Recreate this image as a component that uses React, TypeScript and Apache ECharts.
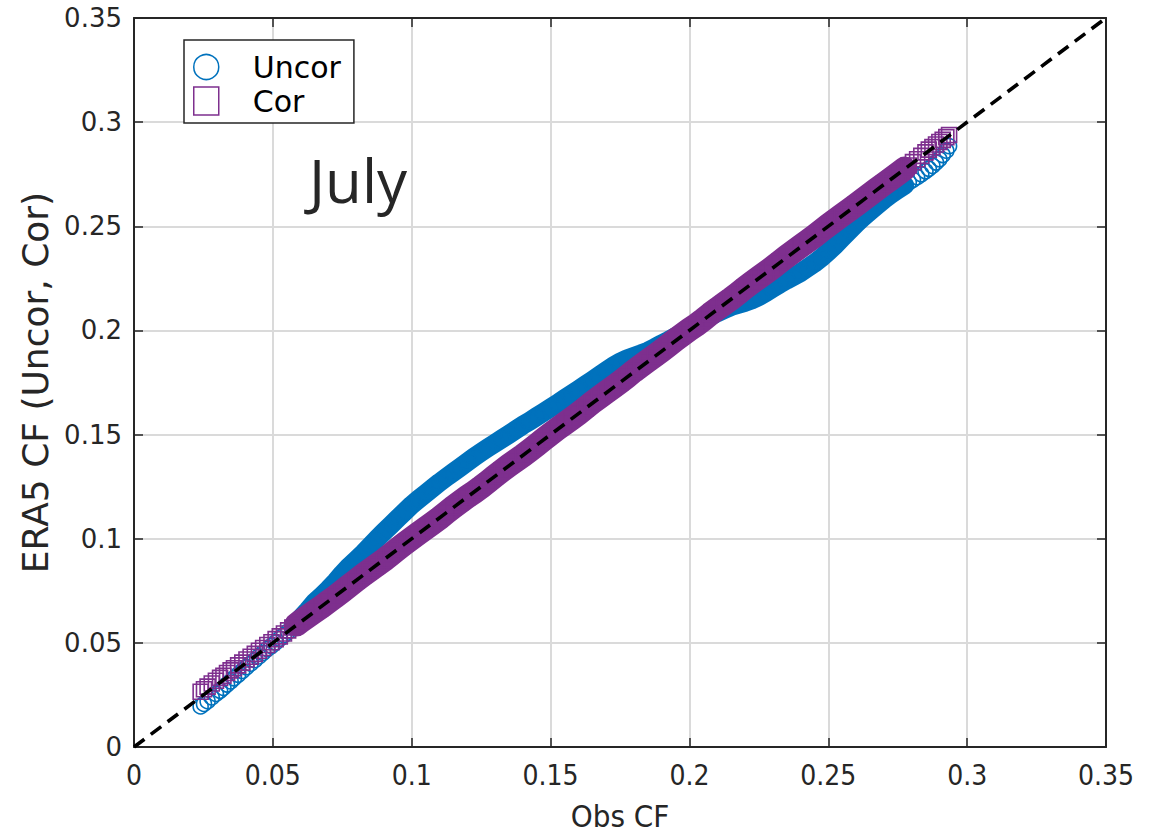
import React, { useEffect, useRef } from 'react';
import * as echarts from 'echarts';

// Observed capacity-factor quantiles (x) shared by both series
const obsCF = [
  0.0240, 0.0252, 0.0265, 0.0280, 0.0295, 0.0310, 0.0322, 0.0335, 0.0348, 0.0360,
  0.0375, 0.0390, 0.0405, 0.0420, 0.0435, 0.0450, 0.0465, 0.0480, 0.0495, 0.0510,
  0.0525, 0.0540, 0.0555, 0.0570, 0.0585, 0.0600, 0.0625, 0.0650, 0.0675, 0.0700,
  0.0725, 0.0750, 0.0775, 0.0800, 0.0825, 0.0850, 0.0875, 0.0900, 0.0925, 0.0950,
  0.0975, 0.1000, 0.1025, 0.1050, 0.1075, 0.1100, 0.1125, 0.1150, 0.1175, 0.1200,
  0.1225, 0.1250, 0.1275, 0.1300, 0.1325, 0.1350, 0.1375, 0.1400, 0.1425, 0.1450,
  0.1475, 0.1500, 0.1525, 0.1550, 0.1575, 0.1600, 0.1625, 0.1650, 0.1675, 0.1700,
  0.1725, 0.1750, 0.1775, 0.1800, 0.1825, 0.1850, 0.1875, 0.1900, 0.1925, 0.1950,
  0.1975, 0.2000, 0.2025, 0.2050, 0.2075, 0.2100, 0.2125, 0.2150, 0.2175, 0.2200,
  0.2225, 0.2250, 0.2275, 0.2300, 0.2325, 0.2350, 0.2375, 0.2400, 0.2425, 0.2450,
  0.2475, 0.2500, 0.2525, 0.2550, 0.2575, 0.2600, 0.2625, 0.2650, 0.2675, 0.2700,
  0.2725, 0.2750, 0.2775, 0.2790, 0.2805, 0.2820, 0.2835, 0.2850, 0.2862, 0.2875,
  0.2888, 0.2900, 0.2912, 0.2925, 0.2935,
];

// ERA5 uncorrected quantiles
const uncorCF = [
  0.0195, 0.0207, 0.0220, 0.0238, 0.0255, 0.0270, 0.0284, 0.0300, 0.0315, 0.0330,
  0.0347, 0.0365, 0.0383, 0.0400, 0.0417, 0.0435, 0.0452, 0.0470, 0.0485, 0.0502,
  0.0520, 0.0537, 0.0555, 0.0575, 0.0595, 0.0618, 0.0655, 0.0695, 0.0725, 0.0757,
  0.0793, 0.0832, 0.0867, 0.0898, 0.0930, 0.0965, 0.1000, 0.1033, 0.1065, 0.1098,
  0.1130, 0.1162, 0.1190, 0.1217, 0.1243, 0.1270, 0.1295, 0.1319, 0.1343, 0.1368,
  0.1392, 0.1415, 0.1437, 0.1458, 0.1480, 0.1501, 0.1523, 0.1545, 0.1565, 0.1586,
  0.1607, 0.1628, 0.1650, 0.1672, 0.1694, 0.1716, 0.1738, 0.1760, 0.1783, 0.1806,
  0.1828, 0.1848, 0.1863, 0.1875, 0.1887, 0.1900, 0.1917, 0.1935, 0.1952, 0.1970,
  0.1987, 0.2005, 0.2025, 0.2046, 0.2067, 0.2085, 0.2100, 0.2115, 0.2125, 0.2135,
  0.2147, 0.2162, 0.2182, 0.2203, 0.2223, 0.2242, 0.2260, 0.2278, 0.2300, 0.2323,
  0.2349, 0.2378, 0.2410, 0.2444, 0.2478, 0.2512, 0.2543, 0.2572, 0.2600, 0.2628,
  0.2653, 0.2676, 0.2697, 0.2710, 0.2723, 0.2736, 0.2750, 0.2764, 0.2776, 0.2790,
  0.2806, 0.2822, 0.2842, 0.2863, 0.2885,
];

// ERA5 corrected quantiles
const corCF = [
  0.0265, 0.0277, 0.0290, 0.0305, 0.0318, 0.0332, 0.0342, 0.0355, 0.0368, 0.0378,
  0.0392, 0.0405, 0.0420, 0.0433, 0.0447, 0.0462, 0.0475, 0.0490, 0.0503, 0.0518,
  0.0531, 0.0545, 0.0560, 0.0574, 0.0588, 0.0603, 0.0627, 0.0650, 0.0673, 0.0698,
  0.0722, 0.0748, 0.0774, 0.0800, 0.0826, 0.0850, 0.0874, 0.0898, 0.0924, 0.0951,
  0.0977, 0.1002, 0.1026, 0.1050, 0.1074, 0.1099, 0.1126, 0.1152, 0.1177, 0.1201,
  0.1224, 0.1248, 0.1274, 0.1301, 0.1327, 0.1352, 0.1376, 0.1399, 0.1424, 0.1450,
  0.1477, 0.1503, 0.1528, 0.1552, 0.1576, 0.1601, 0.1627, 0.1654, 0.1679, 0.1703,
  0.1727, 0.1752, 0.1778, 0.1805, 0.1830, 0.1854, 0.1878, 0.1903, 0.1929, 0.1955,
  0.1980, 0.2004, 0.2027, 0.2052, 0.2079, 0.2104, 0.2128, 0.2152, 0.2178, 0.2205,
  0.2230, 0.2254, 0.2278, 0.2303, 0.2329, 0.2355, 0.2380, 0.2404, 0.2428, 0.2453,
  0.2479, 0.2505, 0.2530, 0.2554, 0.2578, 0.2603, 0.2628, 0.2653, 0.2678, 0.2703,
  0.2727, 0.2752, 0.2777, 0.2792, 0.2808, 0.2822, 0.2838, 0.2855, 0.2868, 0.2880,
  0.2893, 0.2905, 0.2915, 0.2928, 0.2938,
];

// 1:1 reference line end points
const refX = [0, 0.35];
const refY = [0, 0.35];

const AXIS_MIN = 0;
const AXIS_MAX = 0.35;
const TICK_STEP = 0.05;
// dense part of the quantile cloud (markers overlap into a solid band)
const BAND_MIN = 0.058;
const BAND_MAX = 0.278;

const BLUE = '#0072BD';
const PURPLE = '#7E2F8E';
const INK = '#262626';

export default function App() {
  const ref = useRef<HTMLDivElement>(null);

  useEffect(() => {
    document.body.style.margin = '0';
    const chart = echarts.init(ref.current as HTMLDivElement, null, { renderer: 'svg' });

    const pairs = (ys: number[]) => obsCF.map((x, i) => [x, ys[i]]);
    const band = (ys: number[]) => pairs(ys).filter((p) => p[0] >= BAND_MIN && p[0] <= BAND_MAX);

    const boxAxisCommon = {
      type: 'value' as const,
      min: AXIS_MIN,
      max: AXIS_MAX,
      interval: TICK_STEP,
      axisLine: { show: true, onZero: false, lineStyle: { color: INK, width: 2 } },
      axisTick: { show: true, inside: true, length: 9, lineStyle: { color: INK, width: 1.5 } },
    };

    const option: any = {
      animation: false,
      backgroundColor: '#ffffff',
      grid: { left: 134, right: 58, top: 18, bottom: 92, containLabel: false },
      xAxis: [
        {
          ...boxAxisCommon,
          position: 'bottom',
          name: 'Obs CF',
          nameLocation: 'middle',
          nameGap: 53,
          nameTextStyle: { fontFamily: "'DejaVu Sans Condensed', 'DejaVu Sans'", fontSize: 31, color: INK },
          axisLabel: { margin: 14, fontFamily: "'DejaVu Sans Condensed', 'DejaVu Sans'", fontSize: 28, color: INK },
          splitLine: { show: true, lineStyle: { color: '#dadada', width: 2 } },
        },
        {
          ...boxAxisCommon,
          position: 'top',
          axisLabel: { show: false },
          splitLine: { show: false },
        },
      ],
      yAxis: [
        {
          ...boxAxisCommon,
          position: 'left',
          name: 'ERA5 CF (Uncor, Cor)',
          nameLocation: 'middle',
          nameGap: 78,
          nameTextStyle: { fontFamily: "'DejaVu Sans'", fontSize: 36, color: INK },
          axisLabel: { margin: 12, fontFamily: "'DejaVu Sans'", fontSize: 26, color: INK },
          splitLine: { show: true, lineStyle: { color: '#dadada', width: 2 } },
        },
        {
          ...boxAxisCommon,
          position: 'right',
          axisLabel: { show: false },
          splitLine: { show: false },
        },
      ],
      legend: {
        left: 184,
        top: 40,
        orient: 'vertical',
        selectedMode: false,
        backgroundColor: '#ffffff',
        borderColor: INK,
        borderWidth: 1.5,
        borderRadius: 0,
        padding: [12, 13, 7, 9],
        itemWidth: 25,
        itemHeight: 28,
        itemGap: 4,
        data: [
          { name: 'Uncor', icon: 'circle', itemStyle: { color: 'rgba(255,255,255,0)', borderColor: BLUE, borderWidth: 1.5 } },
          { name: 'Cor', icon: 'rect', itemStyle: { color: 'rgba(255,255,255,0)', borderColor: PURPLE, borderWidth: 1.5 } },
        ],
        formatter: (name: string) => '{gap|}' + name,
        textStyle: {
          fontFamily: "'DejaVu Sans'",
          fontSize: 30,
          lineHeight: 30,
          color: '#000000',
          rich: { gap: { width: 29 } },
        },
      },
      graphic: [
        {
          type: 'text',
          left: 309,
          top: 150,
          silent: true,
          style: { text: 'July', font: '60px "Open Sans", "Noto Sans", sans-serif', fill: INK },
          z: 100,
        },
      ],
      series: [
        {
          name: 'UncorBand',
          type: 'line',
          data: band(uncorCF),
          showSymbol: false,
          symbol: 'none',
          silent: true,
          lineStyle: { color: BLUE, width: 19, cap: 'round', join: 'round' },
          z: 2,
        },
        {
          name: 'Uncor',
          type: 'scatter',
          data: pairs(uncorCF),
          symbol: 'circle',
          symbolSize: 15,
          itemStyle: { color: 'rgba(255,255,255,0)', borderColor: BLUE, borderWidth: 1.6, opacity: 1 },
          z: 3,
        },
        {
          name: 'CorBand',
          type: 'line',
          data: band(corCF),
          showSymbol: false,
          symbol: 'none',
          silent: true,
          lineStyle: { color: PURPLE, width: 24, cap: 'round', join: 'round' },
          z: 4,
        },
        {
          name: 'Cor',
          type: 'scatter',
          data: pairs(corCF),
          symbol: 'rect',
          symbolSize: 15,
          itemStyle: { color: 'rgba(255,255,255,0)', borderColor: PURPLE, borderWidth: 1.6, opacity: 1 },
          z: 5,
        },
        {
          name: '1:1',
          type: 'line',
          data: refX.map((x, i) => [x, refY[i]]),
          showSymbol: false,
          symbol: 'none',
          silent: true,
          lineStyle: { color: '#000000', width: 3.6, type: [13, 8] },
          z: 6,
        },
      ],
    };

    chart.setOption(option);
    return () => chart.dispose();
  }, []);

  return (
    <div
      ref={ref}
      style={{ position: 'fixed', left: 0, top: 0, width: 1164, height: 839 }}
    />
  );
}
